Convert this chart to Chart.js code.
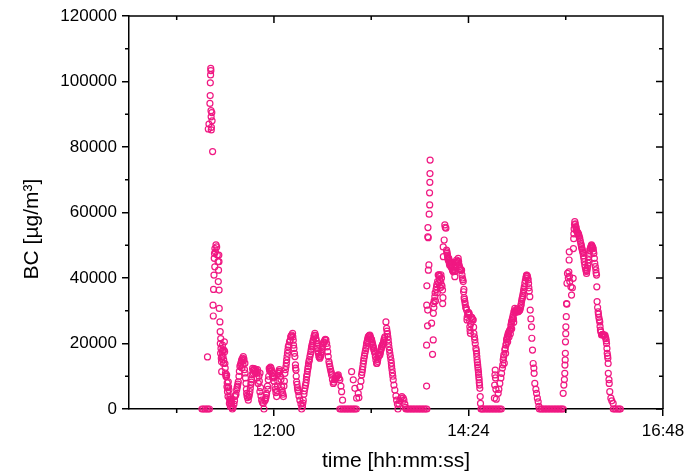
<!DOCTYPE html>
<html>
<head>
<meta charset="utf-8">
<script src="https://cdn.jsdelivr.net/npm/chart.js@4.4.0/dist/chart.umd.min.js"></script>
<style>
  html, body { margin: 0; padding: 0; background: #fff; }
  #wrap { width: 695px; height: 476px; position: relative; }
</style>
</head>
<body>
<div id="wrap"><canvas id="bc"></canvas></div>
<script>
// [time in minutes after midnight, BC in µg/m³]
const firstPeak = [
  [666.7,0],[667.8,0],[669.0,0],[670.1,0],[670.8,15900],[671.2,0],[671.4,85500],[671.9,87000],[672.2,0],
  [672.6,93300],[672.8,95700],[672.9,99600],[673.1,102000],[673.2,104000],[673.3,103300],[673.4,91100],
  [673.5,89200],[673.6,85200],[673.7,86000],[674.0,90500],[674.2,88000],[674.6,78600],
  [674.9,31700],[675.1,28400],[675.3,36500],[675.6,40900],[675.8,46000],[676.0,47500],[676.2,43400],
  [676.3,49000],[676.7,48000],[677.1,50100],[677.6,49500],[678.1,47000],[678.6,45000],[678.8,38900],
  [679.0,42400],[679.2,47000],[679.3,45000],[679.4,36300],[679.5,30700],[680.0,26600],[680.2,23600],
  [680.3,20000],[680.5,17000],[680.8,18500],[681.2,14400],[681.3,11400],[681.5,16000],[681.9,19500],
  [682.3,16000],[682.6,13900],[683.0,18000],[683.3,20500],[683.7,13900],[684.1,11000],[684.5,9900],
  [685.0,10400],[685.2,6800],[685.6,5300],[686.0,3800],[686.2,8300],[686.7,5800],[687.0,1700],
  [687.4,3800],[687.8,700],[688.2,2500],[688.6,1700],[689.2,0],[689.7,400],
  [680.6,21500],[681.0,15500],[681.7,17500],[682.1,18000],[682.8,15000],[683.5,17500],[683.9,12500],
  [684.3,10500],[684.8,10000],[685.4,8000],[685.8,6500],[686.4,6800],[687.2,3000],[687.6,2500],
  [688.0,1500],[688.4,3000],[688.8,500]
];
const middayWaves = [
  [690.4,1500],[691.1,3800],[691.9,4500],[692.4,5800],[693.0,7000],[693.6,8300],[694.1,10000],
  [694.8,13000],[695.6,14000],[696.1,15000],[696.3,12500],[696.7,15500],[697.1,13500],[697.3,16000],
  [697.8,15200],[698.2,12000],[698.5,14000],[698.6,11000],[699.3,7800],[699.8,4800],[700.4,3500],
  [701.0,2700],[701.5,3800],[702.2,5300],[702.9,7500],[703.5,8900],[704.2,12400],[704.7,10900],
  [705.2,12000],[705.9,11500],[707.2,10900],[707.8,12000],[708.4,7800],[708.9,10000],[709.6,5300],
  [709.7,11000],[710.4,4000],[710.9,2700],[711.5,2000],[712.1,1700],[712.6,0],[713.3,2500],
  [714.1,3500],[714.6,4800],[715.2,7000],[715.8,8900],[716.5,12400],[717.0,11500],[717.8,12500],
  [718.3,11900],[718.9,10000],[719.5,10900],[720.0,8500],[720.7,6800],[721.5,5000],[722.0,3800],
  [722.6,7000],[723.2,10900],[723.7,11500],[724.4,11400],[725.2,9000],[725.7,6800],[726.3,5000],
  [727.0,3800],[727.4,7000],[728.1,10900],[728.9,13000],[729.4,15000],[730.0,17000],[730.6,19000],
  [731.5,20500],[732.4,22000],[733.1,22600],[733.8,23100],[734.3,21000],[734.8,18500],[735.5,16000],
  [735.9,13500],[736.3,11900],[736.8,8300],[737.4,6500],[738.0,5300],[738.5,4000],[739.2,2700],
  [740.0,1500],[740.5,0],[741.1,700],[741.7,2700],[742.2,4500],[742.9,6300],[743.7,8000],
  [744.2,9900],[744.8,11500],[745.4,13000],[745.9,14500],[746.6,16000],[747.4,17500],[747.9,19000],
  [748.5,20000],[749.1,21100],[749.6,22000],[750.3,23100],[751.1,21500],[751.6,20000],[752.2,18500],
  [752.8,17000],[753.3,16000],[754.0,15500],[754.8,16500],[755.3,17500],[755.9,19000],[756.5,20000],
  [757.0,20500],[757.7,21000],[758.5,21100],[759.4,19000],[760.2,16000],[760.7,14500],[761.4,13000],
  [762.2,11500],[762.7,10400],[763.3,9000],[763.9,7800],[764.4,8200],[765.1,8900],[765.9,9500],
  [766.6,10000],[767.6,10400],[768.1,9500],[768.8,8900],[769.6,7000],[770.1,5300],[770.8,2700],
  [690.8,2500],[691.5,4200],[692.7,6500],[693.3,7600],[694.4,11500],[695.2,13500],[695.9,14500],
  [697.5,14800],[698.9,9500],[699.6,6000],[700.1,4000],[701.8,4500],[702.5,6300],[703.2,8200],
  [703.8,10500],[704.5,11800],[705.5,12300],[706.2,11000],[706.6,12000],[707.5,9500],[708.1,11200],
  [709.2,8500],[710.1,6500],[713.7,3000],[714.3,4200],[715.5,6000],[716.1,10000],[716.8,12000],
  [717.4,12800],[718.6,11000],[719.2,9500],[719.8,9800],[721.1,6000],[722.3,5500],[722.9,8500],
  [723.5,11000],[724.0,12000],[724.8,10000],[726.0,5800],[726.7,4500],[727.7,8500],[728.5,12000],
  [729.2,14000],[729.7,16000],[730.3,18000],[731.0,19500],[732.0,21000],[732.8,22300],[734.0,22000],
  [734.5,19500],[735.2,17000],[736.0,12500],[736.5,10000],[737.1,7500],[737.7,5800],[741.4,1800],
  [742.5,5500],[743.3,7200],[744.0,9000],[744.5,10500],[745.1,12300],[745.6,13800],[746.2,15000],
  [747.0,16800],[747.6,18200],[748.2,19500],[748.8,20500],[749.9,22500],[750.7,22500],[751.4,20800],
  [751.9,19200],[752.5,17800],[753.6,15800],[754.4,16000],[755.1,17000],[755.6,18200],[756.2,19500],
  [756.8,20300],[758.0,21300],[759.0,20000],[759.8,17500],[761.0,13800],[761.8,12200],[762.5,11000],
  [765.5,9200],[766.2,9800],[767.0,10200],
  [768.8,0],[769.9,0],[771.1,0],[772.2,0],[773.3,0],[774.4,0],[775.5,0],[776.6,0],[777.7,0],
  [778.8,0],[779.9,0],[781.0,0],
  [777.5,11400],[778.7,8900],[779.9,6300],[781.2,3300],[782.4,4800],[782.9,3500],[783.6,6800],
  [784.4,8500],[784.9,10400],[785.5,12000],[786.1,13900],[786.6,15500],[787.3,17000],[788.1,18500],
  [788.6,20000],[789.2,21000],[789.8,22000],[790.3,22300],[791.0,22600],[791.8,21500],[792.3,21100],
  [792.9,20000],[793.5,19000],[794.0,18000],[794.7,17000],[795.5,15000],[796.0,13900],[796.6,14500],
  [797.2,16000],[797.7,16500],[798.4,16500],[799.2,18000],[799.7,19000],[800.3,19500],[800.9,20000],
  [801.4,21000],[802.1,22000],[802.9,26600],[803.4,24600],[804.0,23000],[804.6,21100],[805.1,19000],
  [805.8,17000],[806.6,15000],[807.1,13000],[807.7,11000],[808.3,8900],[808.8,7300],[809.5,5800],
  [810.3,4000],[810.8,2700],[811.4,1500],[811.8,0],[812.5,1500],[813.2,2500],[814.0,3300],
  [814.7,3800],[815.7,3300],[816.2,2700],[816.9,1500],[817.3,500],
  [785.2,11200],[785.8,12900],[786.4,14700],[787.0,16200],[787.7,17800],[788.4,19200],[789.0,20500],
  [789.5,21500],[790.6,22400],[791.4,22000],[792.0,21300],[792.6,20500],[793.2,19500],[793.8,18500],
  [794.4,17500],[795.1,16000],[796.3,14000],[796.9,15200],[797.5,16200],[798.0,16500],[798.8,17200],
  [799.5,18500],[800.0,19200],[800.6,19800],[801.2,20500],[801.7,21500],[803.7,23800],[804.3,22000],
  [804.9,20000],[805.5,18000],[806.2,16000],[806.9,14000],[807.4,12000],[808.0,10000],
  [817.7,0],[818.8,0],[819.9,0],[821.0,0],[822.1,0],[823.2,0],[824.3,0],[825.5,0],[826.6,0],
  [827.7,0],[828.8,0],[829.9,0],[831.0,0],[832.1,0],[833.2,0]
];
const afternoonPeak = [
  [833.0,7000],[833.0,19500],[833.1,31700],[833.2,37600],[833.7,25400],[833.8,30200],[833.9,52600],
  [834.0,55400],[834.2,52300],[834.3,42400],[834.7,44000],[834.9,59500],[835.2,66000],[835.3,62300],
  [835.4,69200],[835.5,71900],[835.6,76000],[836.7,26200],[837.4,16700],[837.9,21100],[838.0,29200],
  [838.1,32200],[838.4,31000],[839.1,34300],[839.6,33000],[840.4,37300],[840.9,35500],[841.6,40900],
  [842.0,38500],[842.4,40900],[842.8,40500],[843.2,37000],[843.6,41000],[844.0,40000],[844.8,36300],
  [844.9,32200],[845.1,34000],[845.3,49500],[845.4,46500],[846.0,51600],[846.5,56200],[846.8,55500],
  [847.3,55200],[847.8,48500],[848.2,47500],[848.6,46500],[849.0,45500],[849.4,46000],[849.8,44500],
  [850.2,44500],[850.6,45000],[851.0,43500],[851.5,43400],[852.1,42500],[852.7,41900],[853.3,43500],
  [853.9,40400],[854.5,44000],[855.2,45500],[855.8,44500],[856.4,46000],[857.0,44000],[857.6,43000],
  [858.2,42500],[858.9,42400],[859.5,40000],[860.1,38900],[860.4,35800],[860.8,34000],[861.3,32800],
  [862.0,31000],[862.6,30200],[862.9,27200],[863.4,29000],[864.0,29500],[864.5,29200],[865.0,25100],
  [865.4,23100],[866.0,28000],[866.8,27500],[867.5,27200],[868.0,23100],[868.7,21100],[869.5,18500],
  [870.0,17000],[870.4,15000],[870.8,13500],[871.2,11900],[871.5,10500],[871.9,8900],[872.2,7300],
  [872.4,6300],[872.7,3800],[872.9,1700],[873.3,0],
  [838.6,33000],[839.3,35500],[840.0,36500],[840.6,38000],[841.2,39000],[841.9,41000],[842.6,39500],
  [843.4,39000],[843.9,38000],[844.4,37500],
  [848.0,48000],[848.4,47000],[848.8,46000],[849.2,45800],[849.6,45200],[850.0,44000],[850.4,44800],
  [850.8,44200],[851.2,43500],[851.8,43000],[852.4,42200],[853.0,42500],[853.6,42000],[854.2,42000],
  [854.8,44800],[855.5,45000],[856.1,45200],[856.7,45000],[857.3,43500],[857.9,42800],[858.6,42400],
  [859.2,41000],[859.8,39500],[860.6,36500],[861.0,33500],[861.6,32000],[862.3,30800],[863.0,28000],
  [863.7,29300],[864.3,29000],[864.8,27000],[865.2,24000],[865.7,26000],[866.4,28000],[867.1,27300],
  [867.8,25000],[868.4,22000],[869.0,20000],[869.8,17800],[870.2,16000],[870.6,14200],[871.0,12700],
  [871.4,11200],[871.7,9700],[872.0,8000],
  [873.9,0],[875.0,0],[876.1,0],[877.3,0],[878.4,0],[879.5,0],[880.6,0],[881.7,0],[882.8,0],
  [883.9,0],[885.0,0],[886.1,0],[887.2,0],[888.3,0]
];
const rampPeak = [
  [883.2,3300],[883.4,7300],[883.6,10400],[883.8,11900],[884.0,9500],[884.3,6000],[884.6,3000],
  [886.0,4800],[886.5,6000],[887.2,7800],[888.0,9500],[888.5,10900],[889.1,12500],[889.7,15000],
  [890.2,16500],[890.5,14000],[890.9,18000],[891.5,17000],[891.7,19500],[892.2,21100],[892.8,22000],
  [893.0,20500],[893.4,23000],[893.9,23500],[894.0,22000],[894.6,24100],[895.0,23000],[895.4,25500],
  [895.9,26600],[896.0,24500],[896.5,27500],[897.1,28700],[897.5,26500],[897.6,29500],[898.3,30700],
  [899.1,29500],[899.8,30500],[900.6,29700],[901.3,30000],[902.0,30200],[902.8,31500],[903.3,32800],
  [903.9,34000],[904.5,35300],[905.0,36500],[905.7,38400],[906.5,40000],[907.0,40900],[907.6,40500],
  [908.2,39400],[908.7,37000],[909.4,34300],[909.7,30200],[910.2,27500],[910.7,25100],[910.9,21600],
  [911.4,18000],[911.9,13900],[912.4,12500],[912.6,10900],[913.1,7800],[913.9,6000],[914.4,4800],
  [915.0,3300],[915.6,2200],[916.1,800],
  [889.4,13500],[890.0,15800],[891.2,18500],[892.0,20000],[892.5,21500],[893.2,22500],[894.3,23800],
  [895.2,24500],[895.7,26000],[896.2,27000],[896.8,28000],[897.3,27500],[897.9,30000],[898.7,30000],
  [899.5,30000],[900.2,30000],[901.0,29800],[901.7,30100],[902.4,30800],[903.0,32000],[903.6,33500],
  [904.2,34600],[904.8,36000],[905.3,37300],[906.1,39200],[906.8,40500],[907.3,40800],[907.9,40000],
  [908.5,38300],[909.0,36000],
  [916.5,0],[917.6,0],[918.7,0],[919.8,0],[920.9,0],[922.0,0],[923.1,0],[924.2,0],[925.3,0],
  [926.5,0],[927.6,0],[928.7,0],[929.8,0],[930.9,0],[932.0,0],[933.1,0],[934.1,0]
];
const latePeak = [
  [934.1,4800],[934.6,7300],[935.0,9000],[935.3,10900],[935.4,13400],[935.6,15000],[935.7,17000],
  [935.8,20500],[936.0,23000],[936.1,25100],[936.4,28200],[936.6,32200],[936.8,32000],[936.9,38400],
  [937.3,41400],[937.9,40000],[938.3,41900],[938.5,45500],[938.6,48000],[938.8,40500],[939.0,38900],
  [939.8,37300],[940.3,34800],[940.9,37000],[941.5,39900],[941.7,49000],[941.9,52000],[942.2,55000],
  [942.7,57200],[943.5,55700],[943.9,54600],[944.6,54000],[945.2,53600],[945.7,53000],[946.4,52100],
  [947.2,50500],[947.7,49500],[948.3,48500],[948.9,47500],[949.4,46000],[950.1,44000],[950.9,42500],
  [951.4,41400],[952.0,43000],[952.6,44500],[953.1,46500],[953.8,48500],[954.6,49500],[955.1,50100],
  [955.7,49500],[956.3,49000],[956.8,47500],[957.5,44500],[958.3,42500],[958.8,40900],[959.0,37300],
  [959.2,32800],[960.0,29700],[960.5,28000],[961.2,26600],[961.7,24100],[962.5,22600],[963.5,22800],
  [964.2,22500],[965.0,22600],[965.7,21500],[966.2,20000],[966.7,17000],[967.2,15500],[967.4,13900],
  [967.5,10900],[968.0,9000],[968.2,7800],[968.6,5300],[969.4,3300],[970.1,2500],[971.1,1700],
  [942.0,53500],[942.5,56300],[943.1,56500],[943.7,55200],[944.2,54300],[944.9,53800],[945.5,53300],
  [946.0,52600],[946.8,51300],[947.5,50000],[948.0,49000],[948.6,48000],[949.1,46800],[949.7,45000],
  [950.5,43200],[951.2,42000],[951.7,42200],[952.3,43800],[952.9,45500],[953.4,47500],[954.2,49000],
  [954.9,49800],[955.4,49800],[956.0,49200],[956.5,48200],[957.2,46000],[957.9,43500],[958.5,41500],
  [959.6,31000],[960.2,29000],[960.9,27200],[961.4,25200],[962.0,23500],[963.0,22700],[963.8,22600],
  [964.6,22500],[965.3,22000],[966.0,20800],[966.5,18500],[967.0,16200],
  [971.2,0],[972.3,0],[973.5,0],[974.6,0],[975.7,0],[976.4,0]
];

const xMajorTicks = [720, 864, 1008];
const xMinorTicks = [648, 792, 936];
const yMajorTicks = [0, 20000, 40000, 60000, 80000, 100000, 120000];
const yMinorTicks = [10000, 30000, 50000, 70000, 90000, 110000];

const pink = 'rgb(240, 24, 130)';
const font = 'Liberation Sans';

const points = [...firstPeak, ...middayWaves, ...afternoonPeak, ...rampPeak, ...latePeak]
  .map(([t, v]) => ({ x: t, y: v }));

const hhmm = (min) => {
  const h = Math.floor(min / 60);
  const m = Math.round(min - h * 60);
  return h + ':' + String(m).padStart(2, '0');
};

// Origin-style frame: mirrored ticks on top/right, plus minor ticks
const frame = {
  id: 'frame',
  afterDraw(chart) {
    const { ctx, chartArea: a, scales: { x, y } } = chart;
    ctx.save();
    ctx.strokeStyle = '#000';
    ctx.lineWidth = 1.5;
    ctx.beginPath();
    ctx.moveTo(a.left, a.top);
    ctx.lineTo(a.right, a.top);
    ctx.lineTo(a.right, a.bottom);
    xMajorTicks.forEach(v => {
      const px = x.getPixelForValue(v);
      ctx.moveTo(px, a.top); ctx.lineTo(px, a.top + 7);
    });
    xMinorTicks.forEach(v => {
      const px = x.getPixelForValue(v);
      ctx.moveTo(px, a.top); ctx.lineTo(px, a.top + 4);
      ctx.moveTo(px, a.bottom); ctx.lineTo(px, a.bottom + 4);
    });
    yMajorTicks.forEach(v => {
      const py = y.getPixelForValue(v);
      ctx.moveTo(a.right, py); ctx.lineTo(a.right - 7, py);
    });
    yMinorTicks.forEach(v => {
      const py = y.getPixelForValue(v);
      ctx.moveTo(a.right, py); ctx.lineTo(a.right - 4, py);
      ctx.moveTo(a.left, py); ctx.lineTo(a.left - 4, py);
    });
    ctx.stroke();

    ctx.translate(32, 229);
    ctx.rotate(-Math.PI / 2);
    ctx.fillStyle = '#000';
    ctx.font = '21px "' + font + '"';
    ctx.textAlign = 'center';
    ctx.textBaseline = 'middle';
    ctx.fillText('BC [µg/m³]', 0, 0);
    ctx.restore();
  }
};

new Chart(document.getElementById('bc'), {
  type: 'scatter',
  data: {
    datasets: [{
      data: points,
      pointStyle: 'circle',
      pointRadius: 3,
      pointBorderWidth: 1.2,
      borderColor: pink,
      backgroundColor: 'rgba(0,0,0,0)',
      clip: false
    }]
  },
  options: {
    responsive: true,
    maintainAspectRatio: false,
    animation: false,
    layout: { padding: { top: 16, right: 32, left: 0, bottom: 0 } },
    plugins: { legend: { display: false }, tooltip: { enabled: false } },
    scales: {
      x: {
        type: 'linear',
        min: 612.7,
        max: 1008,
        afterBuildTicks: s => { s.ticks = xMajorTicks.map(v => ({ value: v })); },
        afterFit: s => { s.height = 67; },
        grid: { drawOnChartArea: false, drawTicks: true, tickLength: 7, color: '#000', lineWidth: 1.5 },
        border: { color: '#000', width: 1.5 },
        ticks: {
          callback: v => hhmm(v),
          color: '#000',
          font: { family: font, size: 17 },
          padding: 5,
          maxRotation: 0,
          autoSkip: false
        },
        title: {
          display: true,
          text: 'time [hh:mm:ss]',
          color: '#000',
          font: { family: font, size: 21 },
          padding: { top: 0, bottom: 2 }
        }
      },
      y: {
        min: 0,
        max: 120000,
        afterBuildTicks: s => { s.ticks = yMajorTicks.map(v => ({ value: v })); },
        afterFit: s => { s.width = 129; },
        grid: { drawOnChartArea: false, drawTicks: true, tickLength: 7, color: '#000', lineWidth: 1.5 },
        border: { color: '#000', width: 1.5 },
        ticks: {
          callback: v => String(v),
          color: '#000',
          font: { family: font, size: 17 },
          padding: 5
        }
      }
    }
  },
  plugins: [frame]
});
</script>
</body>
</html>
